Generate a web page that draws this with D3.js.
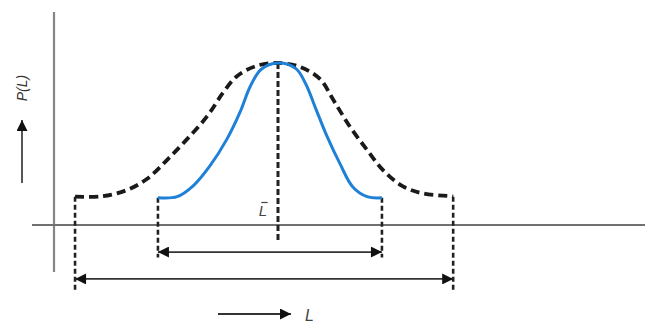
<!DOCTYPE html>
<html><head><meta charset="utf-8">
<script src="https://cdn.jsdelivr.net/npm/d3@7/dist/d3.min.js"></script>
<style>html,body{margin:0;padding:0;background:#fff;}svg{display:block;}</style>
</head><body>
<script>
// Wide distribution (dashed black) : L values and P(L) values
const wideL = [0.47, 1.09, 1.63, 2.08, 2.52, 2.97, 3.42, 3.77, 4.09, 4.53, 5.0, 5.50, 5.94, 6.25, 6.61, 6.99, 7.34, 7.79, 8.24, 8.84, 8.91];
const wideP = [0.175, 0.178, 0.216, 0.285, 0.401, 0.530, 0.672, 0.815, 0.920, 0.983, 1.0, 0.975, 0.900, 0.765, 0.605, 0.463, 0.340, 0.238, 0.195, 0.178, 0.175];
// Narrow distribution (blue)
const narrowL = [2.32, 2.75, 3.10, 3.48, 3.86, 4.15, 4.38, 4.62, 5.0, 5.40, 5.62, 5.84, 6.09, 6.38, 6.67, 6.99, 7.32];
const narrowP = [0.168, 0.175, 0.240, 0.365, 0.530, 0.695, 0.855, 0.960, 1.0, 0.965, 0.870, 0.720, 0.550, 0.380, 0.235, 0.175, 0.168];
const meanL = 5.0;
const labels = {y: "P(L)", x: "L", mean: "L"};

const W = 645, H = 325;
const svg = d3.select("body").append("svg").attr("width", W).attr("height", H);

const x = d3.scaleLinear().domain([0, 10]).range([54, 502]);
const y = d3.scaleLinear().domain([0, 1]).range([225, 63]);

// axes
svg.append("line").attr("x1", x(0)).attr("x2", x(0)).attr("y1", 12).attr("y2", 272)
  .attr("stroke", "#858585").attr("stroke-width", 2.2);
svg.append("line").attr("x1", 32).attr("x2", W).attr("y1", y(0)).attr("y2", y(0))
  .attr("stroke", "#707070").attr("stroke-width", 1.8);

const defs = svg.append("defs");
defs.append("marker").attr("id", "arr").attr("viewBox", "0 0 10 10").attr("refX", 10).attr("refY", 5)
  .attr("markerWidth", 13).attr("markerHeight", 11).attr("markerUnits", "userSpaceOnUse")
  .attr("orient", "auto-start-reverse")
  .append("path").attr("d", "M0,0 L10,5 L0,10 z").attr("fill", "#111");

// drop lines
const drops = [
  {L: wideL[0], top: wideP[0], bottom: -0.40},
  {L: wideL[wideL.length - 1], top: wideP[wideP.length - 1], bottom: -0.40},
  {L: narrowL[0], top: narrowP[0], bottom: -0.20},
  {L: narrowL[narrowL.length - 1], top: narrowP[narrowP.length - 1], bottom: -0.20}
];
svg.selectAll(".drop").data(drops).enter().append("line")
  .attr("x1", d => x(d.L)).attr("x2", d => x(d.L))
  .attr("y1", d => y(d.top)).attr("y2", d => y(d.bottom))
  .attr("stroke", "#222").attr("stroke-width", 2.6).attr("stroke-dasharray", "5,3");

// center line
svg.append("line").attr("x1", x(meanL)).attr("x2", x(meanL)).attr("y1", y(1)).attr("y2", y(-0.095))
  .attr("stroke", "#222").attr("stroke-width", 3).attr("stroke-dasharray", "6,3");

// range arrows
const ranges = [
  {a: narrowL[0], b: narrowL[narrowL.length - 1], p: -0.167},
  {a: wideL[0], b: wideL[wideL.length - 1], p: -0.333}
];
svg.selectAll(".rng").data(ranges).enter().append("line")
  .attr("x1", d => x(d.a)).attr("x2", d => x(d.b))
  .attr("y1", d => y(d.p)).attr("y2", d => y(d.p))
  .attr("stroke", "#333").attr("stroke-width", 1.8)
  .attr("marker-start", "url(#arr)").attr("marker-end", "url(#arr)");

// curves
const line = d3.line().x(d => x(d[0])).y(d => y(d[1])).curve(d3.curveCatmullRom.alpha(0.5));
svg.append("path").datum(d3.zip(wideL, wideP)).attr("d", line)
  .attr("fill", "none").attr("stroke", "#1a1a1a").attr("stroke-width", 3.8)
  .attr("stroke-dasharray", "9,5");
svg.append("path").datum(d3.zip(narrowL, narrowP)).attr("d", line)
  .attr("fill", "none").attr("stroke", "#1f80d8").attr("stroke-width", 3);

// labels
svg.append("text").attr("transform", "translate(27,88) rotate(-90)")
  .attr("text-anchor", "middle").attr("font-family", "Liberation Sans, Arial, sans-serif")
  .attr("font-style", "italic").attr("font-size", 14).attr("fill", "#333").text(labels.y);
svg.append("line").attr("x1", 22).attr("x2", 22).attr("y1", 183).attr("y2", 120)
  .attr("stroke", "#444").attr("stroke-width", 1.8).attr("marker-end", "url(#arr)");

const meanBase = 216;
const meanText = svg.append("text").attr("x", 263).attr("y", meanBase).attr("text-anchor", "middle")
  .attr("font-family", "Liberation Sans, Arial, sans-serif").attr("font-style", "italic")
  .attr("font-size", 15).attr("fill", "#444").text(labels.mean);
const bb = meanText.node().getBBox();
svg.append("line").attr("x1", bb.x + 2.5).attr("x2", bb.x + bb.width + 0.5)
  .attr("y1", meanBase - 13.5).attr("y2", meanBase - 13.5)
  .attr("stroke", "#444").attr("stroke-width", 1.2);

svg.append("line").attr("x1", 218).attr("x2", 291).attr("y1", 314).attr("y2", 314)
  .attr("stroke", "#333").attr("stroke-width", 1.8).attr("marker-end", "url(#arr)");
svg.append("text").attr("x", 305).attr("y", 321)
  .attr("font-family", "Liberation Sans, Arial, sans-serif").attr("font-style", "italic")
  .attr("font-size", 16).attr("fill", "#444").text(labels.x);
</script>
</body></html>
